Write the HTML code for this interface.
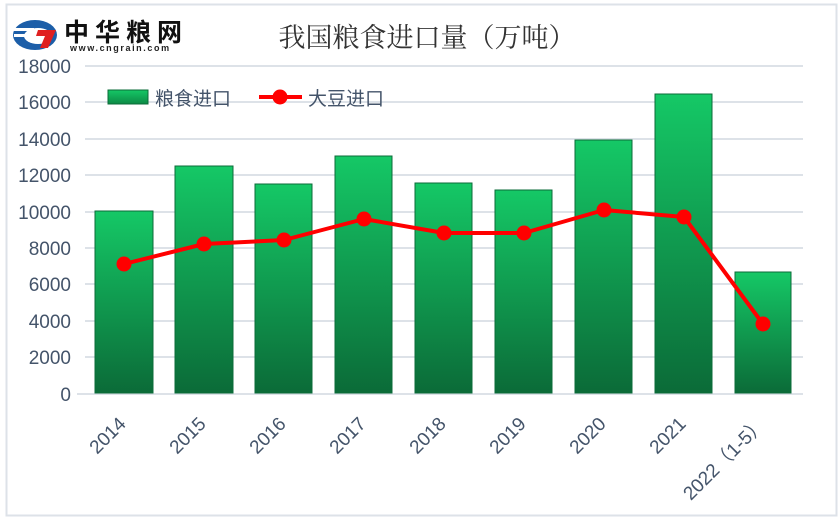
<!DOCTYPE html>
<html><head><meta charset="utf-8"><style>
body{margin:0;background:#fff;}
</style></head><body>
<svg width="840" height="524" xmlns="http://www.w3.org/2000/svg" font-family="Liberation Sans, Noto Sans CJK SC, sans-serif">
<defs>
<linearGradient id="g" x1="0" y1="0" x2="0" y2="1">
<stop offset="0" stop-color="#15c866"/><stop offset="1" stop-color="#0b6b38"/>
</linearGradient>
<linearGradient id="lg" x1="0" y1="0" x2="0" y2="1">
<stop offset="0" stop-color="#15c866"/><stop offset="1" stop-color="#0c8a45"/>
</linearGradient>
</defs>
<rect x="6.5" y="4.5" width="830" height="511" fill="#fff" stroke="#dde2e8" stroke-width="2"/>
<g>
<ellipse cx="35" cy="35" rx="22" ry="15" fill="#1c5ea8"/>
<ellipse cx="38" cy="36" rx="14" ry="8" fill="#fff"/>
<rect x="14" y="28" width="20" height="3" fill="#fff"/>
<rect x="14" y="34" width="20" height="3" fill="#fff"/>
<polygon points="38,30 56,30 48,48 40,48 45,36 36,36" fill="#e02020"/>
<text x="64" y="41" font-size="25" font-weight="bold" fill="#111" font-family="Noto Sans CJK SC, sans-serif" letter-spacing="6">中华粮网</text>
<text x="70" y="51" font-size="9" font-weight="bold" fill="#222" letter-spacing="1.6">www.cngrain.com</text>
</g>
<text x="427" y="47" font-size="27" text-anchor="middle" fill="#333" font-family="Liberation Serif, Noto Serif CJK SC, serif">我国粮食进口量（万吨）</text>
<g stroke="#dde2e8" stroke-width="2">
<line x1="85" x2="803" y1="66" y2="66"/><line x1="85" x2="803" y1="102" y2="102"/>
<line x1="85" x2="803" y1="139" y2="139"/><line x1="85" x2="803" y1="175" y2="175"/>
<line x1="85" x2="803" y1="212" y2="212"/><line x1="85" x2="803" y1="248" y2="248"/>
<line x1="85" x2="803" y1="284" y2="284"/><line x1="85" x2="803" y1="321" y2="321"/>
<line x1="85" x2="803" y1="357" y2="357"/><line x1="77" x2="803" y1="394" y2="394"/>
</g>
<g font-size="19" fill="#44546a" text-anchor="end">
<text x="71" y="73">18000</text><text x="71" y="109">16000</text><text x="71" y="146">14000</text>
<text x="71" y="182">12000</text><text x="71" y="219">10000</text><text x="71" y="255">8000</text>
<text x="71" y="291">6000</text><text x="71" y="328">4000</text><text x="71" y="364">2000</text>
<text x="71" y="401">0</text>
</g>
<g fill="url(#g)" stroke="#0b6b38" stroke-width="1">
<rect x="95" y="211" width="58" height="182"/>
<rect x="175" y="166" width="58" height="227"/>
<rect x="255" y="184" width="57" height="209"/>
<rect x="335" y="156" width="57" height="237"/>
<rect x="415" y="183" width="57" height="210"/>
<rect x="495" y="190" width="57" height="203"/>
<rect x="575" y="140" width="57" height="253"/>
<rect x="655" y="94" width="57" height="299"/>
<rect x="735" y="272" width="56" height="121"/>
</g>
<polyline points="124,264 204,244 284,240 364,219 444,233 524,233 604,210 684,217 763,324" fill="none" stroke="#ff0000" stroke-width="4" stroke-linejoin="round"/>
<g fill="#ff0000">
<circle cx="124" cy="264" r="7.5"/><circle cx="204" cy="244" r="7.5"/><circle cx="284" cy="240" r="7.5"/>
<circle cx="364" cy="219" r="7.5"/><circle cx="444" cy="233" r="7.5"/><circle cx="524" cy="233" r="7.5"/>
<circle cx="604" cy="210" r="7.5"/><circle cx="684" cy="217" r="7.5"/><circle cx="763" cy="324" r="7.5"/>
</g>
<rect x="108" y="90" width="40" height="14" fill="url(#lg)" stroke="#0b6b38"/>
<text x="155" y="105" font-size="19" fill="#44546a">粮食进口</text>
<line x1="259" x2="302" y1="97" y2="97" stroke="#ff0000" stroke-width="4"/>
<circle cx="280" cy="97" r="7.5" fill="#ff0000"/>
<text x="308" y="105" font-size="19" fill="#44546a">大豆进口</text>
<g font-size="19" fill="#44546a" text-anchor="end">
<text transform="translate(127,425) rotate(-45)">2014</text>
<text transform="translate(207,425) rotate(-45)">2015</text>
<text transform="translate(287,425) rotate(-45)">2016</text>
<text transform="translate(367,425) rotate(-45)">2017</text>
<text transform="translate(447,425) rotate(-45)">2018</text>
<text transform="translate(527,425) rotate(-45)">2019</text>
<text transform="translate(607,425) rotate(-45)">2020</text>
<text transform="translate(687,425) rotate(-45)">2021</text>
<text transform="translate(767,425) rotate(-45)">2022（1-5）</text>
</g>
</svg>
</body></html>
